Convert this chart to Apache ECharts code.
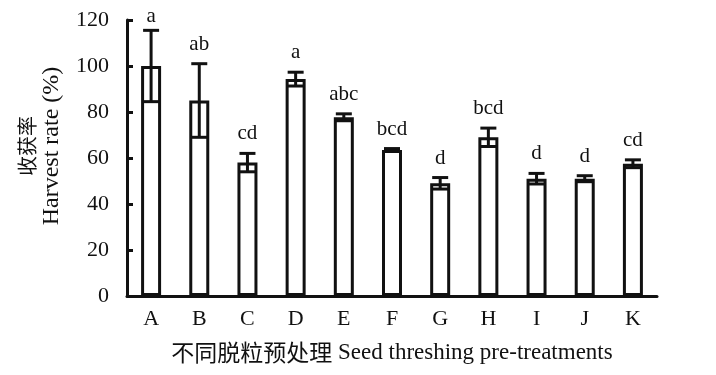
<!DOCTYPE html>
<html><head><meta charset="utf-8">
<script src="https://cdn.jsdelivr.net/npm/echarts@6/dist/echarts.min.js"></script>
<style>html,body{margin:0;padding:0;background:#fff}#c{width:716px;height:375px}</style>
</head><body><div id="c"></div>
<script>
const categories = ['A','B','C','D','E','F','G','H','I','J','K'];
const meanValues = [100, 85, 58, 94.3, 77.7, 63.5, 49, 69, 51, 51, 57.5];
const errValues = [15.5, 16, 4, 3, 1.5, 0.6, 2.5, 4, 2.3, 1.3, 1.7];
const sigLetters = ['a','ab','cd','a','abc','bcd','d','bcd','d','d','cd'];
const yTicks = [0, 20, 40, 60, 80, 100, 120];
const yTitleZh = '收获率';
const yTitleEn = 'Harvest rate (%)';
const xTitleZh = '不同脱粒预处理';
const xTitleEn = 'Seed threshing pre-treatments';

const FONT = "'Liberation Serif', 'Noto Sans CJK SC', serif";
const CJK = "'Noto Sans CJK SC', 'Liberation Serif', serif";
const chart = echarts.init(document.getElementById('c'));
const errData = categories.map((c, i) => [i, meanValues[i], errValues[i]]);

chart.setOption({
  animation: false,
  grid: { left: 127, right: 59, top: 20, bottom: 79 },
  graphic: [
    { type: 'text', x: 27, y: 146, rotation: Math.PI / 2,
      style: { text: yTitleZh, font: "20px " + CJK, fill: '#111', align: 'center', verticalAlign: 'middle' } },
    { type: 'text', x: 52, y: 146, rotation: Math.PI / 2,
      style: { text: yTitleEn, font: "24px " + FONT, fill: '#111', align: 'center', verticalAlign: 'middle' } }
  ],
  xAxis: {
    type: 'category', data: categories,
    axisLine: { lineStyle: { color: '#111', width: 3 } },
    axisTick: { inside: true, length: 6, lineStyle: { color: '#111', width: 3 } },
    axisLabel: { color: '#111', fontFamily: FONT, fontSize: 22, margin: 12 },
    name: '{zh|' + xTitleZh + '} {en|' + xTitleEn + '}',
    nameLocation: 'middle', nameGap: 45,
    nameTextStyle: {
      color: '#111', fontFamily: FONT, fontSize: 23,
      rich: {
        zh: { fontFamily: CJK, fontSize: 23, color: '#111' },
        en: { fontFamily: FONT, fontSize: 23, color: '#111' }
      }
    }
  },
  yAxis: {
    type: 'value', min: yTicks[0], max: yTicks[yTicks.length - 1], interval: 20,
    axisLine: { show: true, lineStyle: { color: '#111', width: 3 } },
    axisTick: { show: true, inside: true, length: 6, lineStyle: { color: '#111', width: 3 } },
    splitLine: { show: false },
    axisLabel: { color: '#111', fontFamily: FONT, fontSize: 22, margin: 18 }
  },
  series: [
    {
      type: 'bar', data: meanValues, barWidth: 20,
      itemStyle: { color: '#fff', borderColor: '#111', borderWidth: 3 }
    },
    {
      type: 'custom', data: errData, encode: { x: 0, y: 1 }, z: 5,
      renderItem: function (params, api) {
        const i = api.value(0), v = api.value(1), e = api.value(2);
        const letter = sigLetters[i];
        const top = api.coord([i, v + e]);
        const bot = api.coord([i, v - e]);
        const x = top[0], half = 8;
        const style = { stroke: '#111', lineWidth: 3 };
        return {
          type: 'group',
          children: [
            { type: 'line', shape: { x1: x, y1: top[1], x2: x, y2: bot[1] }, style },
            { type: 'line', shape: { x1: x - half, y1: top[1], x2: x + half, y2: top[1] }, style },
            { type: 'line', shape: { x1: x - half, y1: bot[1], x2: x + half, y2: bot[1] }, style },
            { type: 'text', x: x, y: Math.max(top[1] - 9, 27),
              style: { text: letter, fill: '#111', font: "21px " + FONT, align: 'center', verticalAlign: 'bottom' } }
          ]
        };
      }
    }
  ]
});
</script></body></html>
